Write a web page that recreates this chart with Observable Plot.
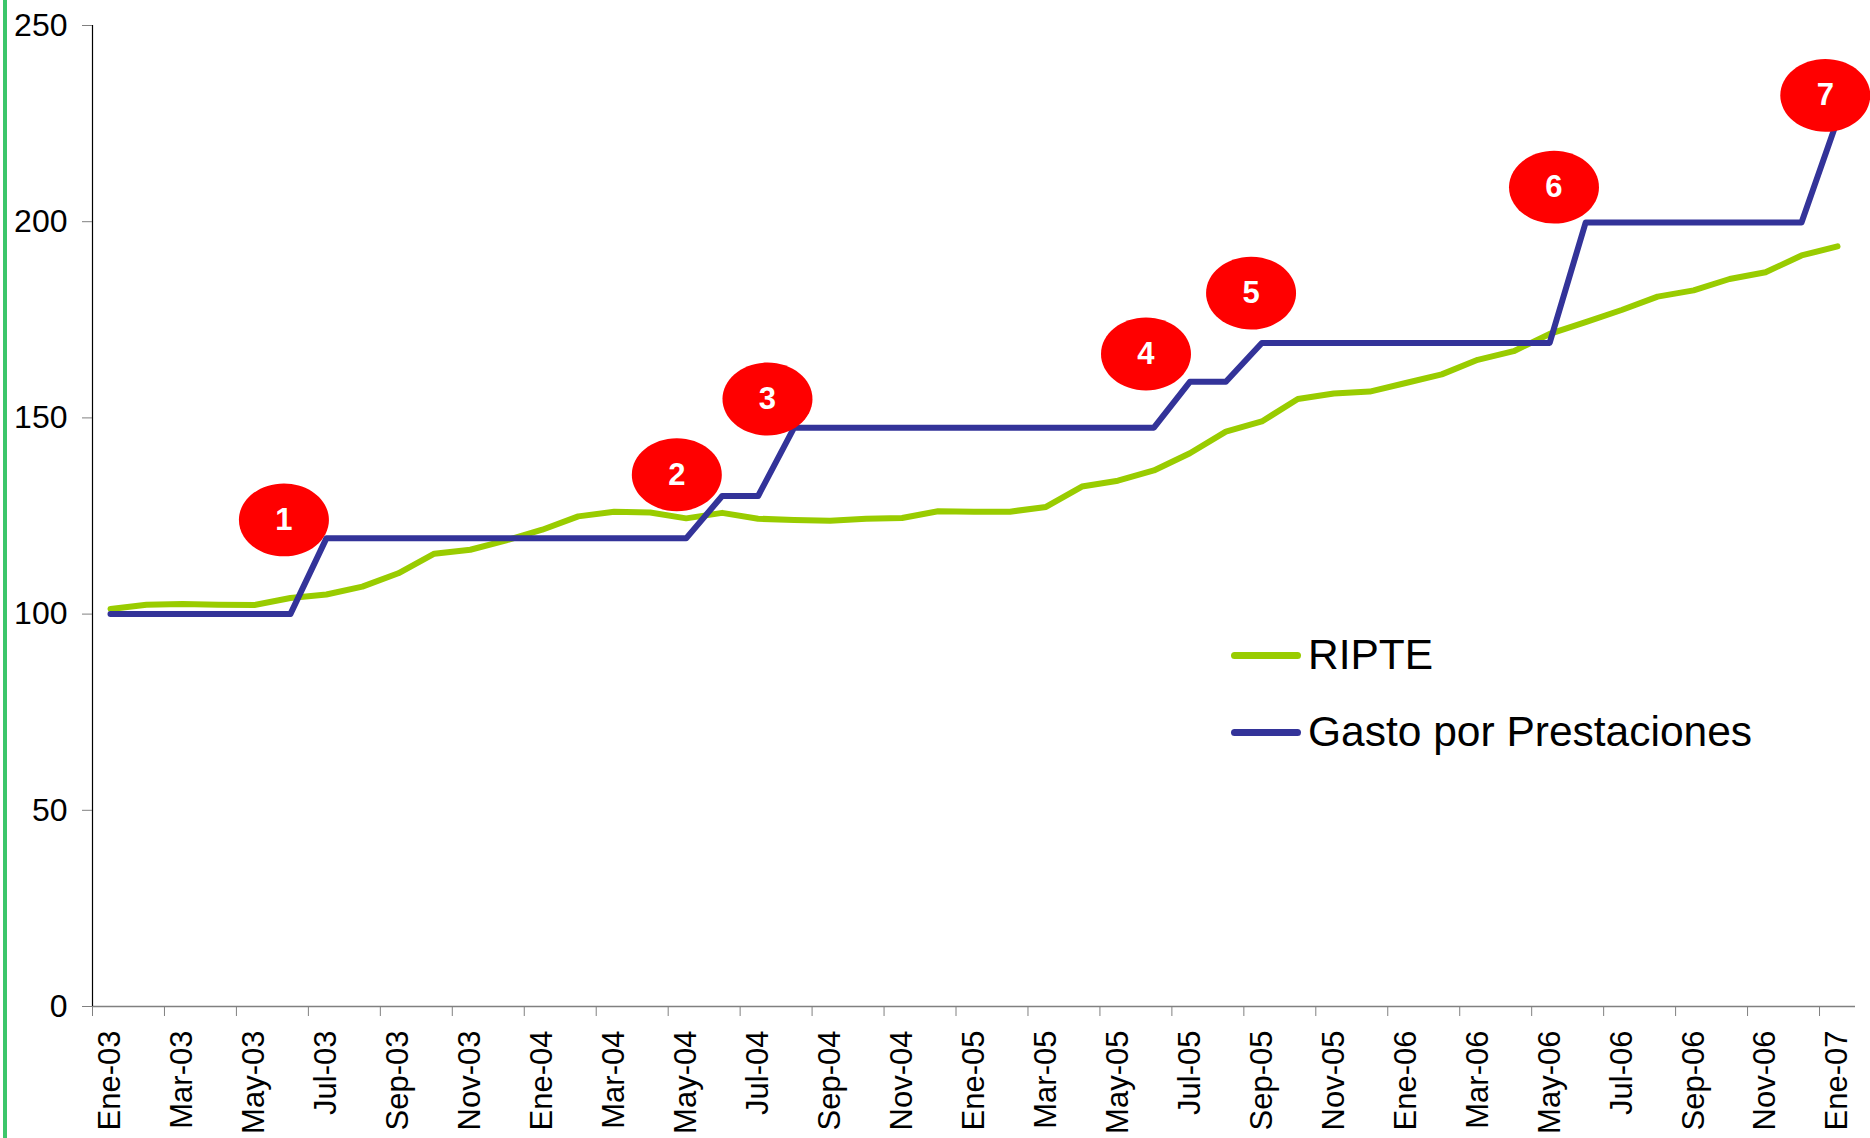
<!DOCTYPE html>
<html>
<head>
<meta charset="utf-8">
<script src="https://cdn.jsdelivr.net/npm/d3@7"></script>
<script src="https://cdn.jsdelivr.net/npm/@observablehq/plot@0.6"></script>
<style>
  html, body { margin: 0; padding: 0; background: #ffffff; overflow: hidden; }
  #wrap { position: relative; width: 1870px; height: 1138px; font-family: "Liberation Sans", Arial, sans-serif; }
  #edge { position: absolute; left: 3px; top: 0; width: 4px; height: 1138px; background: #3cc66b; }
  .legend-row { position: absolute; left: 1231px; display: flex; align-items: center; height: 50px; font-size: 42.5px; line-height: 50px; color: #000; white-space: nowrap; }
  .sw { width: 70px; height: 7px; border-radius: 4px; margin-right: 7px; }
</style>
</head>
<body>
<div id="wrap">
  <div id="edge"></div>
  <div id="chart"></div>
  <div class="legend-row" style="top:630px"><span class="sw" style="background:#99CC00"></span><span>RIPTE</span></div>
  <div class="legend-row" style="top:707px"><span class="sw" style="background:#333399"></span><span>Gasto por Prestaciones</span></div>
</div>
<script>
// ---- Data ----
const months = [
  "Ene-03","Feb-03","Mar-03","Abr-03","May-03","Jun-03","Jul-03","Ago-03","Sep-03","Oct-03","Nov-03","Dic-03",
  "Ene-04","Feb-04","Mar-04","Abr-04","May-04","Jun-04","Jul-04","Ago-04","Sep-04","Oct-04","Nov-04","Dic-04",
  "Ene-05","Feb-05","Mar-05","Abr-05","May-05","Jun-05","Jul-05","Ago-05","Sep-05","Oct-05","Nov-05","Dic-05",
  "Ene-06","Feb-06","Mar-06","Abr-06","May-06","Jun-06","Jul-06","Ago-06","Sep-06","Oct-06","Nov-06","Dic-06",
  "Ene-07"
];

const ripte = [
  101.3, 102.4, 102.6, 102.4, 102.3, 104.1, 105.0, 107.0, 110.4, 115.4, 116.4, 118.8,
  121.5, 124.9, 126.1, 125.9, 124.4, 125.8, 124.3, 124.0, 123.8, 124.3, 124.5, 126.2,
  126.1, 126.1, 127.3, 132.5, 134.0, 136.6, 141.0, 146.5, 149.1, 154.8, 156.2, 156.7,
  158.9, 161.1, 164.8, 167.0, 171.4, 174.4, 177.5, 180.9, 182.5, 185.4, 187.1, 191.4,
  193.7
];

const gasto = [
  100, 100, 100, 100, 100, 100, 119.3, 119.3, 119.3, 119.3, 119.3, 119.3,
  119.3, 119.3, 119.3, 119.3, 119.3, 130.1, 130.1, 147.5, 147.5, 147.5, 147.5, 147.5,
  147.5, 147.5, 147.5, 147.5, 147.5, 147.5, 159.2, 159.2, 169.1, 169.1, 169.1, 169.1,
  169.1, 169.1, 169.1, 169.1, 169.1, 199.8, 199.8, 199.8, 199.8, 199.8, 199.8, 199.8,
  226
];

const yTicks = [0, 50, 100, 150, 200, 250];
const labelIdx = [0, 2, 4, 6, 8, 10, 12, 14, 16, 18, 20, 22, 24, 26, 28, 30, 32, 34, 36, 38, 40, 42, 44, 46, 48];

// Numbered markers (month index, value)
const markLabels = ["1", "2", "3", "4", "5", "6", "7"];
const markX = [4.82, 15.74, 18.26, 28.78, 31.70, 40.12, 47.66];
const markY = [124.0, 135.5, 154.8, 166.3, 181.8, 208.8, 232.2];

// ---- Build ----
const rows = months.map((m, i) => ({i, m, ripte: ripte[i], gasto: gasto[i]}));
const marks = markLabels.map((t, k) => ({t, x: markX[k], y: markY[k]}));
const boundaries = labelIdx.map(i => i - 0.5);

const ellipse = {
  draw(context, size) {
    const r = Math.sqrt(size / Math.PI);
    const rx = r, ry = r * 0.81, k = 0.5523;
    context.moveTo(rx, 0);
    context.bezierCurveTo(rx, ry * k, rx * k, ry, 0, ry);
    context.bezierCurveTo(-rx * k, ry, -rx, ry * k, -rx, 0);
    context.bezierCurveTo(-rx, -ry * k, -rx * k, -ry, 0, -ry);
    context.bezierCurveTo(rx * k, -ry, rx, -ry * k, rx, 0);
    context.closePath();
  }
};

const chart = Plot.plot({
  width: 1870,
  height: 1138,
  marginLeft: 92,
  marginRight: 15,
  marginTop: 25,
  marginBottom: 132,
  style: {fontFamily: "'Liberation Sans', Arial, sans-serif", color: "#000", background: "transparent", overflow: "visible"},
  x: {type: "linear", domain: [-0.5, 48.5], axis: null},
  y: {domain: [0, 250], axis: null},
  marks: [
    Plot.ruleY([0], {stroke: "#808080", strokeWidth: 1.5}),
    Plot.ruleX([-0.5], {stroke: "#000", strokeWidth: 1.2}),
    Plot.axisY({ticks: yTicks, tickSize: 10, tickPadding: 15, fontSize: 32, stroke: "#808080", label: null}),
    Plot.axisX({ticks: boundaries, tickSize: 10, tickFormat: () => "", stroke: "#808080", label: null}),
    Plot.axisX({ticks: labelIdx, tickSize: 0, tickPadding: 24, tickRotate: -90, fontSize: 31, tickFormat: i => months[i], label: null}),
    Plot.line(rows, {x: "i", y: "ripte", stroke: "#99CC00", strokeWidth: 6, strokeLinecap: "round", strokeLinejoin: "round"}),
    Plot.line(rows, {x: "i", y: "gasto", stroke: "#333399", strokeWidth: 6, strokeLinecap: "round", strokeLinejoin: "round"}),
    Plot.dot(marks, {x: "x", y: "y", r: 45, symbol: ellipse, fill: "#FF0000", stroke: null}),
    Plot.text(marks, {x: "x", y: "y", text: "t", fill: "#ffffff", fontSize: 31, fontWeight: "bold"})
  ]
});
document.getElementById("chart").appendChild(chart);
</script>
</body>
</html>
